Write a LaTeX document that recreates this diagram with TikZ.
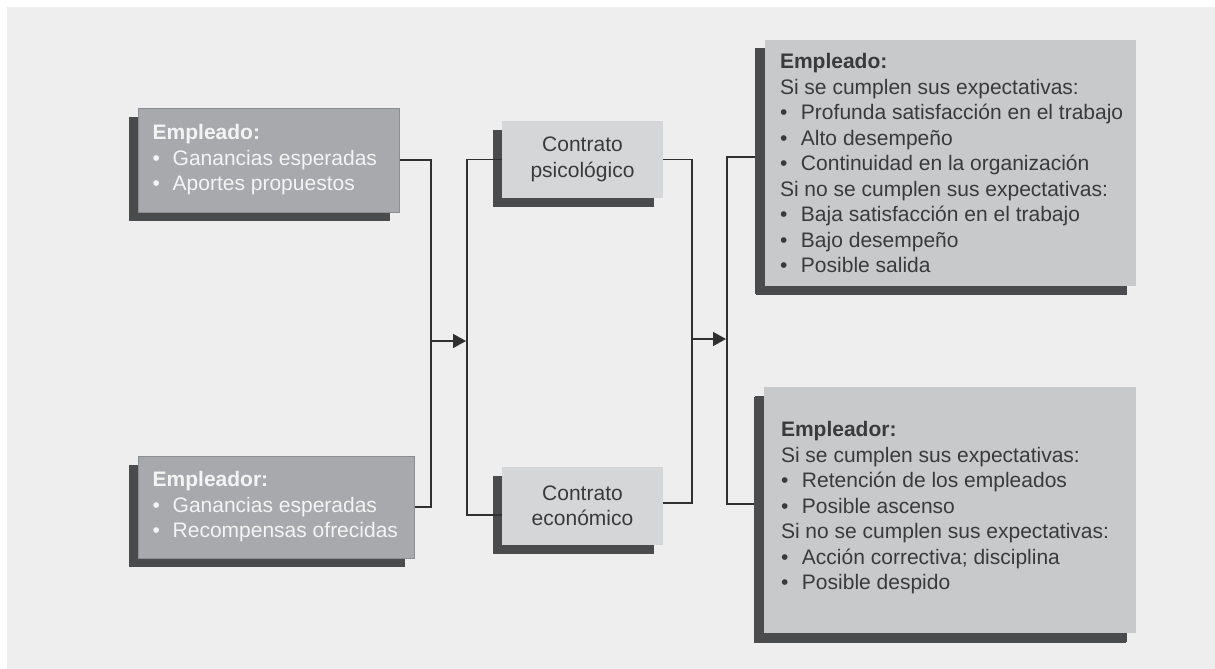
\documentclass[tikz,border=0pt]{standalone}
\usepackage{fontspec}
\setmainfont{Liberation Sans}
\usetikzlibrary{arrows.meta,shadows}

\definecolor{bgc}{HTML}{EEEEEE}
\definecolor{leftfill}{HTML}{A7A9AC}
\definecolor{leftborder}{HTML}{8C8E91}
\definecolor{lighttext}{HTML}{F4F4F4}
\definecolor{shadowc}{HTML}{4A4B4D}
\definecolor{midfill}{HTML}{D5D6D8}
\definecolor{rightfill}{HTML}{C8C9CB}
\definecolor{darktext}{HTML}{3A3A3A}
\definecolor{linec}{HTML}{303030}

\newcommand\itm{\makebox[20pt][l]{\textbullet}}
\newcommand\itmr{\makebox[21pt][l]{\textbullet}}

\begin{document}
\begin{tikzpicture}[x=1pt,y=-1pt,
  font=\fontsize{21}{25.5}\selectfont,
  boxshadow/.style={drop shadow={shadow xshift=-9pt,shadow yshift=-9pt,opacity=1,fill=shadowc}},
  leftbox/.style={rectangle,fill=leftfill,draw=leftborder,line width=1pt,inner sep=0pt,boxshadow},
  lefttxt/.style={inner sep=0pt,align=left,text=lighttext,anchor=west},
  midbox/.style={rectangle,fill=midfill,inner sep=0pt,align=center,text=darktext,
    minimum width=161pt,minimum height=77pt,boxshadow},
  rightbox/.style={rectangle,fill=rightfill,inner sep=0pt,boxshadow={}},
  righttxt/.style={inner sep=0pt,align=left,text=darktext,anchor=west},
  conn/.style={draw=linec,line width=1.5pt},
  flow/.style={conn,-{Triangle[length=13pt,width=14pt]},shorten >=1pt}
]
\useasboundingbox (0,0) rectangle (1215,669);
\fill[white] (0,0) rectangle (1215,669);
\fill[bgc] (7,7) rectangle (1215,669);

% inputs: what each side expects
\node[leftbox,minimum width=261pt,minimum height=104pt] (l1) at (268.5,160) {};
\node[lefttxt] (l1t) at ([xshift=15pt]l1.west)
  {\textbf{Empleado:}\\\itm Ganancias esperadas\\\itm Aportes propuestos};
\node[leftbox,minimum width=276pt,minimum height=102pt] (l2) at (276,507) {};
\node[lefttxt] (l2t) at ([xshift=15pt]l2.west)
  {\textbf{Empleador:}\\\itm Ganancias esperadas\\\itm Recompensas ofrecidas};

% the two contracts
\node[midbox] (psico) at (582.5,159.5) {Contrato\\psicológico};
\node[midbox,minimum height=78pt] (econ) at (582.5,506) {Contrato\\económico};

% outcomes
\node[rightbox,drop shadow={shadow xshift=-10pt,shadow yshift=-8pt,opacity=1,fill=shadowc},
  minimum width=371pt,minimum height=246pt] (rt) at (950.5,163) {};
\node[righttxt] (rtt) at ([xshift=15pt]rt.west)
  {\textbf{Empleado:}\\
   Si se cumplen sus expectativas:\\
   \itmr Profunda satisfacción en el trabajo\\
   \itmr Alto desempeño\\
   \itmr Continuidad en la organización\\
   Si no se cumplen sus expectativas:\\
   \itmr Baja satisfacción en el trabajo\\
   \itmr Bajo desempeño\\
   \itmr Posible salida};
\node[rightbox,drop shadow={shadow xshift=-10pt,shadow yshift=-10pt,opacity=1,fill=shadowc},
  minimum width=372pt,minimum height=246pt] (rb) at (950,510) {};
\node[righttxt] (rbt) at ([xshift=17pt,yshift=2pt]rb.west)
  {\textbf{Empleador:}\\
   Si se cumplen sus expectativas:\\
   \itmr Retención de los empleados\\
   \itmr Posible ascenso\\
   Si no se cumplen sus expectativas:\\
   \itmr Acción correctiva; disciplina\\
   \itmr Posible despido};

% junctions
\coordinate (ja) at (431,341);
\coordinate (jb) at (467,341);
\coordinate (jc) at (692,339);
\coordinate (jd) at (727,339);

% connectors
\draw[conn] (l1.east) -| (ja) |- (l2.east);
\draw[flow] (ja) -- (jb);
\draw[conn] (psico.west) -| (jb) |- ([yshift=-9pt]econ.west);
\draw[conn] (psico.east) -| (jc) |- ([yshift=3pt]econ.east);
\draw[flow] (jc) -- (jd);
\draw[conn] ([yshift=6pt,xshift=-10pt]rt.west) -| (jd) |- ([yshift=6pt,xshift=-10pt]rb.west);
\end{tikzpicture}
\end{document}
